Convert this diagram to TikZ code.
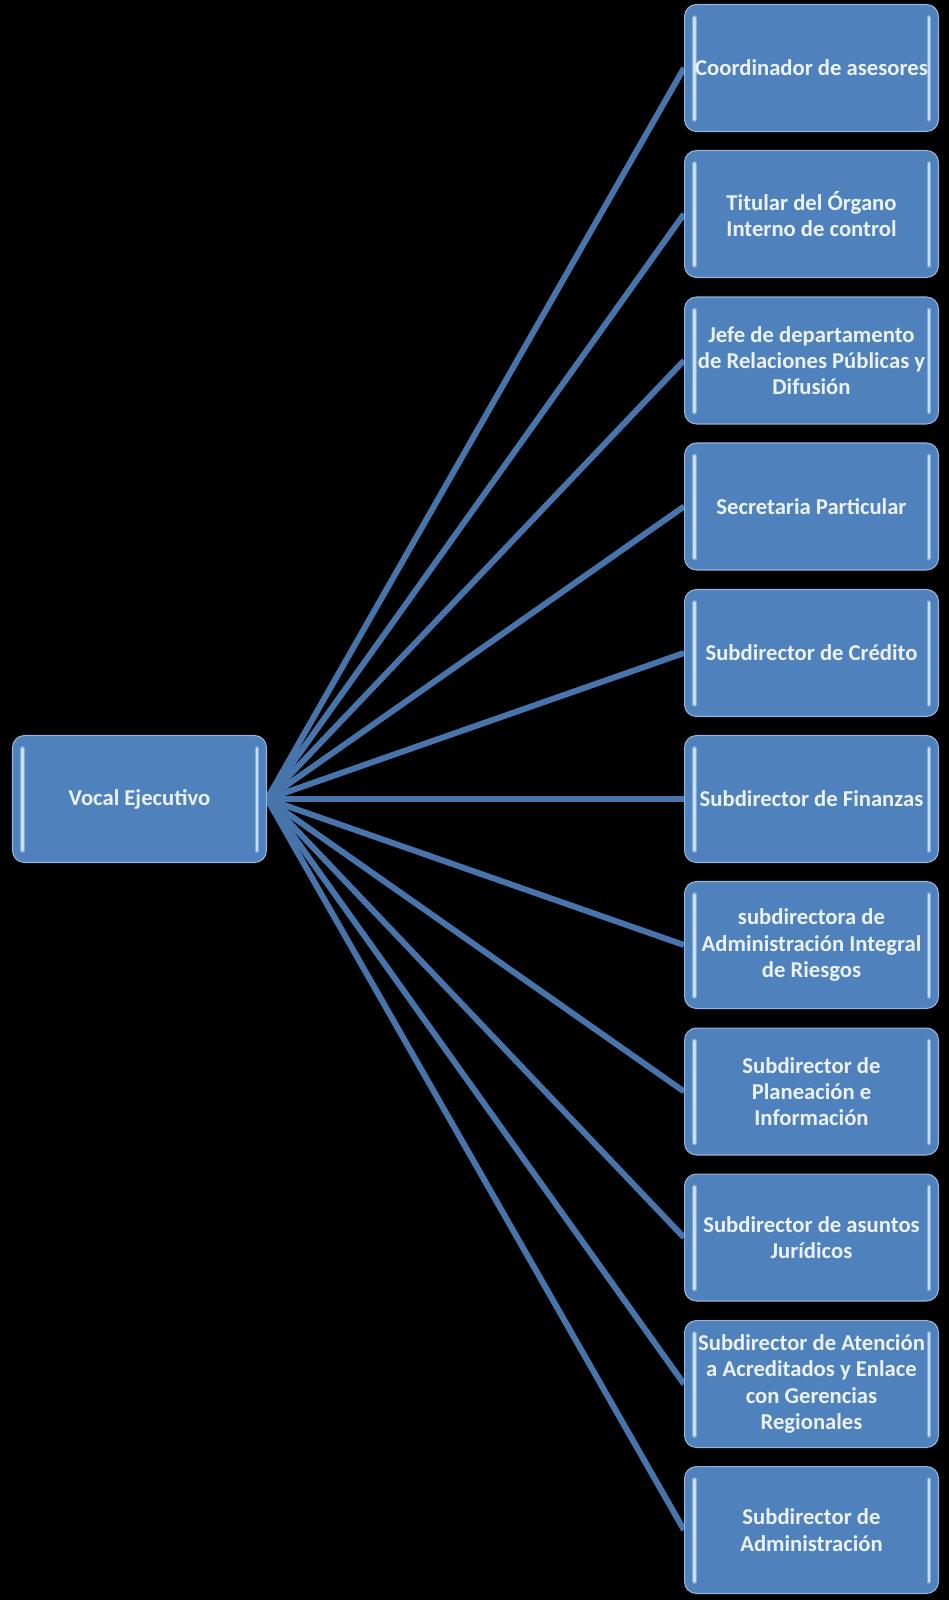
\documentclass[tikz,border=0pt]{standalone}
\usepackage{fontspec}
\setmainfont{Carlito}
\usepackage{tikz}
\usetikzlibrary{positioning}
\definecolor{boxblue}{RGB}{79,129,189}
\definecolor{edgeblue}{RGB}{150,180,220}
\definecolor{lineblue}{RGB}{72,116,172}
\definecolor{glow}{RGB}{200,222,248}
\definecolor{texto}{RGB}{236,242,250}
\pgfdeclarelayer{bg}
\pgfsetlayers{bg,main}

\begin{document}
\begin{tikzpicture}[x=0.02cm, y=-0.02cm,
    puesto/.style={draw=edgeblue, line width=0.6pt, fill=boxblue, rounded corners=0.24cm,
        minimum width=5.08cm, minimum height=2.54cm, align=center, inner sep=0pt,
        text=texto, font=\bfseries\fontsize{12.9}{15}\selectfont,
        path picture={
            \draw[glow, line width=2.6pt, line cap=round, opacity=0.45]
                ([shift={(0.2cm,-0.26cm)}]path picture bounding box.north west) -- ([shift={(0.2cm,0.24cm)}]path picture bounding box.south west)
                ([shift={(-0.19cm,-0.26cm)}]path picture bounding box.north east) -- ([shift={(-0.19cm,0.24cm)}]path picture bounding box.south east);
            \draw[glow, line width=1.3pt, line cap=round]
                ([shift={(0.2cm,-0.26cm)}]path picture bounding box.north west) -- ([shift={(0.2cm,0.24cm)}]path picture bounding box.south west)
                ([shift={(-0.19cm,-0.26cm)}]path picture bounding box.north east) -- ([shift={(-0.19cm,0.24cm)}]path picture bounding box.south east);
        }},
    rama/.style={lineblue, line width=0.12cm}]
    \useasboundingbox (0,0) rectangle (949,1600);

    \node[puesto] (vocal) at (139.5,799) {Vocal Ejecutivo};

    \node[puesto] (coord) at (811.5,68) {Coordinador de asesores};
    \node[puesto] (titular) at (811.5,214) {Titular del Órgano\\Interno de control};
    \node[puesto] (jefe) at (811.5,360.5) {Jefe de departamento\\de Relaciones Públicas y\\Difusión};
    \node[puesto] (secretaria) at (811.5,506.5) {Secretaria Particular};
    \node[puesto] (credito) at (811.5,653) {Subdirector de Crédito};
    \node[puesto] (finanzas) at (811.5,799) {Subdirector de Finanzas};
    \node[puesto] (riesgos) at (811.5,945) {subdirectora de\\Administración Integral\\de Riesgos};
    \node[puesto] (planeacion) at (811.5,1091.5) {Subdirector de\\Planeación e\\Información};
    \node[puesto] (juridicos) at (811.5,1237.5) {Subdirector de asuntos\\Jurídicos};
    \node[puesto] (atencion) at (811.5,1384) {Subdirector de Atención\\a Acreditados y Enlace\\con Gerencias\\Regionales};
    \node[puesto] (admin) at (811.5,1530) {Subdirector de\\Administración};

    \begin{pgfonlayer}{bg}
    \fill[black] (0,0) rectangle (949,1600);
    \foreach \p in {coord,titular,jefe,secretaria,credito,finanzas,riesgos,planeacion,juridicos,atencion,admin}
        \draw[rama] (vocal.east) -- (\p.west);
    \end{pgfonlayer}
\end{tikzpicture}
\end{document}
